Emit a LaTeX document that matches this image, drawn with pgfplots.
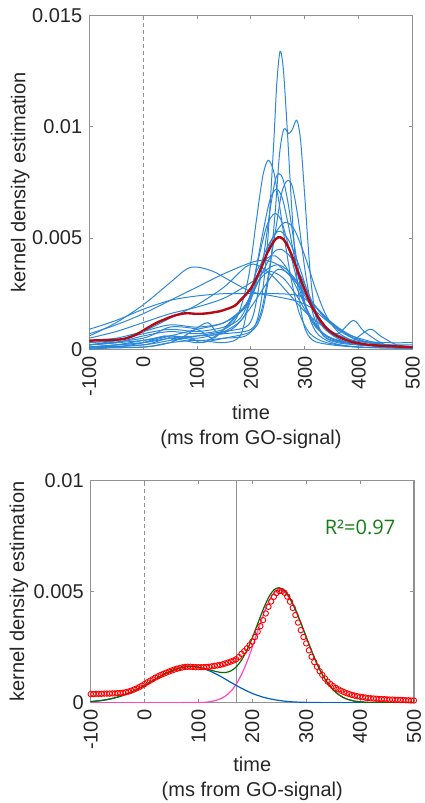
\documentclass[border=0pt]{standalone}
\usepackage{fontspec}
\setmainfont{Liberation Sans}
\newfontfamily\osans{Open Sans}
\usepackage{pgfplots}
\usepackage{pgfplotstable}
\pgfplotsset{compat=1.18}
\definecolor{axisgray}{RGB}{145,145,145}
\definecolor{kdeblue}{RGB}{45,135,215}
\definecolor{meanred}{RGB}{180,10,20}
\definecolor{fitgreen}{RGB}{0,110,0}
\definecolor{fitblue}{RGB}{0,95,200}
\definecolor{fitmagenta}{RGB}{255,70,190}
\definecolor{rgreen}{RGB}{20,125,20}

% mean kernel density (red), shared by both panels
\pgfplotstableread{
t v
-100 0.00039
-95 0.00039
-90 0.00040
-85 0.00040
-80 0.00040
-75 0.00041
-70 0.00041
-65 0.00041
-60 0.00042
-55 0.00042
-50 0.00043
-45 0.00044
-40 0.00045
-35 0.00047
-30 0.00050
-25 0.00054
-20 0.00059
-15 0.00064
-10 0.00070
-5 0.00077
0 0.00084
5 0.00092
10 0.00099
15 0.00106
20 0.00113
25 0.00119
30 0.00125
35 0.00130
40 0.00135
45 0.00140
50 0.00145
55 0.00149
60 0.00153
65 0.00156
70 0.00159
75 0.00161
80 0.00162
85 0.00162
90 0.00161
95 0.00160
100 0.00160
105 0.00160
110 0.00160
115 0.00161
120 0.00162
125 0.00164
130 0.00166
135 0.00168
140 0.00170
145 0.00173
150 0.00177
155 0.00181
160 0.00185
165 0.00190
170 0.00196
175 0.00206
180 0.00220
185 0.00232
190 0.00245
195 0.00259
200 0.00275
205 0.00296
210 0.00320
215 0.00345
220 0.00372
225 0.00402
230 0.00432
235 0.00456
240 0.00477
245 0.00494
250 0.00503
255 0.00503
260 0.00495
265 0.00478
270 0.00455
275 0.00427
280 0.00395
285 0.00361
290 0.00327
295 0.00296
300 0.00267
305 0.00236
310 0.00207
315 0.00183
320 0.00162
325 0.00142
330 0.00125
335 0.00109
340 0.00095
345 0.00084
350 0.00075
355 0.00067
360 0.00060
365 0.00054
370 0.00048
375 0.00043
380 0.00039
385 0.00035
390 0.00032
395 0.00029
400 0.00027
405 0.00025
410 0.00023
415 0.00021
420 0.00020
425 0.00019
430 0.00018
435 0.00017
440 0.00016
445 0.00016
450 0.00015
455 0.00014
460 0.00014
465 0.00013
470 0.00013
475 0.00012
480 0.00012
485 0.00011
490 0.00011
495 0.00010
500 0.00010
}\meankde

\pgfplotsset{
  matlabax/.style={
    scale only axis,
    xmin=-100, xmax=500, ymin=0,
    xtick={-100,0,100,200,300,400,500},
    xticklabels={-100,0,100,200,300,400,500},
    scaled y ticks=false,
    xticklabel style={rotate=90, anchor=east},
    tick label style={font=\fontsize{10}{12}\selectfont, text=black!85},
    /pgf/number format/assume math mode=true,
    major tick length=1.8pt,
    tick style={draw=axisgray, line width=0.5pt},
    axis line style={draw=axisgray, line width=0.6pt},
    label style={font=\fontsize{10}{12.5}\selectfont, text=black!85},
    xlabel={time\\(ms from GO-signal)},
    ylabel={kernel density estimation},
  },
  kde/.style={kdeblue, line width=0.5pt, smooth, tension=0.5},
}

\begin{document}
\begin{tikzpicture}
\path[use as bounding box] (0pt,0pt) rectangle (212pt,-401.5pt);

% ---- top: individual KDEs and their mean
\begin{axis}[matlabax,
  at={(44.65pt,-7.85pt)}, anchor=north west,
  width=161.7pt, height=166.8pt,
  ymax=0.015,
  ytick={0,0.005,0.01,0.015}, yticklabels={0,0.005,0.01,0.015},
  xlabel style={at={(axis description cs:0.5,0)}, anchor=center, yshift=-38.6pt, align=center},
  ylabel style={at={(axis description cs:-0.214,0.5)}, anchor=center},
]
\addplot[kde] coordinates {(-100,0.0001) (-50,0.0002) (0,0.0004) (50,0.0006) (100,0.0004) (150,0.0005) (190,0.0006) (210,0.0012) (222,0.0027) (232,0.0052) (242,0.0092) (248,0.0120) (254,0.0134) (260,0.0126) (267,0.0100) (276,0.0062) (286,0.0030) (298,0.0011) (315,0.0004) (350,0.0002) (400,0.0001) (500,0.00005)};
\addplot[kde] coordinates {(-100,0.0001) (0,0.0002) (50,0.0005) (100,0.0003) (150,0.0005) (200,0.0008) (220,0.0016) (235,0.0036) (245,0.0062) (253,0.0088) (261,0.0099) (270,0.0097) (277,0.0099) (285,0.0103) (292,0.0094) (300,0.0068) (310,0.0034) (320,0.0015) (335,0.0006) (360,0.0003) (400,0.0002) (500,0.0001)};
\addplot[kde] coordinates {(-100,0.0002) (-50,0.0003) (0,0.0006) (50,0.0008) (100,0.0007) (150,0.0009) (175,0.0015) (195,0.0032) (210,0.0058) (222,0.0078) (232,0.0085) (242,0.0080) (252,0.0066) (262,0.0050) (275,0.0031) (290,0.0016) (310,0.0007) (340,0.0003) (400,0.0001) (500,0.00005)};
\addplot[kde] coordinates {(-100,0.00005) (0,0.0002) (50,0.0004) (100,0.0006) (150,0.0008) (190,0.0010) (205,0.0016) (220,0.0036) (235,0.0062) (245,0.0076) (252,0.0079) (260,0.0076) (270,0.0064) (285,0.0040) (300,0.0021) (320,0.0008) (350,0.0003) (400,0.0001) (500,0.00005)};
\addplot[kde] coordinates {(-100,0.0001) (0,0.0003) (50,0.0005) (100,0.0006) (150,0.0007) (200,0.0009) (220,0.0018) (240,0.0045) (255,0.0068) (262,0.0074) (269,0.0076) (277,0.0073) (288,0.0058) (300,0.0036) (315,0.0016) (335,0.0006) (370,0.0003) (420,0.0002) (500,0.0001)};
\addplot[kde] coordinates {(-100,0.0003) (-50,0.0004) (0,0.0007) (50,0.0009) (100,0.0008) (150,0.0010) (180,0.0014) (200,0.0025) (220,0.0050) (235,0.0067) (247,0.0072) (258,0.0068) (270,0.0055) (285,0.0036) (300,0.0020) (320,0.0010) (350,0.0005) (400,0.0002) (500,0.0001)};
\addplot[kde] coordinates {(-100,0.0002) (0,0.0005) (50,0.0010) (100,0.0009) (130,0.0005) (160,0.0012) (195,0.0022) (215,0.0042) (230,0.0056) (244,0.0061) (256,0.0058) (270,0.0046) (290,0.0027) (310,0.0014) (340,0.0006) (380,0.0003) (450,0.0001) (500,0.00005)};
\addplot[kde] coordinates {(-100,0.0001) (-50,0.0002) (0,0.0003) (50,0.0006) (100,0.0009) (150,0.0012) (190,0.0020) (215,0.0034) (240,0.0050) (262,0.0057) (280,0.0054) (300,0.0042) (320,0.0027) (340,0.0015) (365,0.0007) (400,0.0003) (450,0.0001) (500,0.00005)};
\addplot[kde] coordinates {(-100,0.0002) (0,0.0004) (50,0.0006) (100,0.0005) (150,0.0008) (185,0.0014) (205,0.0026) (225,0.0043) (250,0.0053) (270,0.0049) (290,0.0037) (310,0.0022) (330,0.0011) (360,0.0005) (400,0.0002) (500,0.0001)};
\addplot[kde] coordinates {(-100,0.0004) (-50,0.0005) (0,0.0008) (50,0.0011) (100,0.0010) (150,0.0012) (190,0.0019) (220,0.0034) (240,0.0043) (255,0.0045) (275,0.0041) (300,0.0029) (325,0.0015) (350,0.0008) (390,0.0004) (450,0.0002) (500,0.0001)};
\addplot[kde] coordinates {(-100,0.00005) (0,0.0001) (50,0.0003) (100,0.0004) (150,0.0003) (180,0.0006) (195,0.0020) (210,0.0035) (230,0.0041) (245,0.0042) (265,0.0037) (290,0.0025) (315,0.0013) (340,0.0006) (380,0.0003) (420,0.0009) (440,0.0006) (470,0.0002) (500,0.0001)};
\addplot[kde] coordinates {(-100,0.0007) (-50,0.0011) (0,0.0016) (50,0.0022) (100,0.0028) (150,0.0034) (200,0.0039) (225,0.0040) (250,0.0038) (280,0.0031) (310,0.0022) (340,0.0014) (370,0.0008) (400,0.0005) (450,0.0002) (500,0.0001)};
\addplot[kde] coordinates {(-100,0.0006) (-50,0.0012) (0,0.0020) (50,0.0030) (80,0.0036) (100,0.0037) (130,0.0035) (160,0.0031) (200,0.0026) (240,0.0024) (280,0.0022) (310,0.0019) (340,0.0013) (370,0.0008) (400,0.0004) (450,0.0002) (500,0.0001)};
\addplot[kde] coordinates {(-100,0.0009) (-50,0.0013) (0,0.0018) (50,0.0022) (100,0.0024) (150,0.0025) (200,0.0025) (250,0.0025) (290,0.0024) (320,0.0019) (350,0.0012) (380,0.0007) (420,0.0003) (500,0.0001)};
\addplot[kde] coordinates {(-100,0.0002) (-50,0.0004) (0,0.0008) (50,0.0014) (100,0.0020) (150,0.0028) (190,0.0037) (210,0.0038) (240,0.0033) (270,0.0025) (300,0.0017) (330,0.0011) (360,0.0007) (390,0.0013) (410,0.0008) (450,0.0002) (500,0.0001)};
\addplot[kde] coordinates {(-100,0.0000) (-50,0.0001) (0,0.0003) (40,0.0006) (60,0.0004) (90,0.0008) (120,0.0012) (140,0.0007) (170,0.0010) (200,0.0019) (230,0.0030) (250,0.0036) (275,0.0033) (300,0.0024) (330,0.0012) (360,0.0005) (400,0.0002) (500,0.0001)};
\addplot[kde] coordinates {(-100,0.0001) (0,0.0001) (50,0.0003) (80,0.0006) (110,0.0003) (150,0.0009) (190,0.0020) (215,0.0031) (235,0.0035) (260,0.0032) (285,0.0024) (310,0.0014) (340,0.0006) (380,0.0003) (420,0.0002) (500,0.0002)};
\addplot[kde] coordinates {(-100,0.0005) (-50,0.0008) (0,0.0012) (50,0.0016) (100,0.0019) (150,0.0023) (200,0.0030) (230,0.0036) (250,0.0038) (270,0.0035) (300,0.0026) (330,0.0016) (360,0.0009) (400,0.0004) (450,0.0003) (500,0.0003)};
\addplot[meanred, line width=1.2pt] table[x=t, y=v] {\meankde};
\addplot[axisgray, line width=0.5pt, dash pattern=on 2pt off 1.5pt] coordinates {(0,0) (0,0.015)};
\end{axis}

% ---- bottom: mean KDE and two-component fit
\begin{axis}[matlabax,
  at={(45.35pt,-240.35pt)}, anchor=north west,
  width=161.6pt, height=111pt,
  ymax=0.01,
  ytick={0,0.005,0.01}, yticklabels={0,0.005,0.01},
  xlabel style={at={(axis description cs:0.5,0)}, anchor=center, yshift=-38.2pt, align=center},
  ylabel style={at={(axis description cs:-0.222,0.5)}, anchor=center},
]
\addplot[axisgray, line width=0.5pt, dash pattern=on 2pt off 1.5pt] coordinates {(0,0) (0,0.01)};
\addplot[axisgray, line width=0.5pt] coordinates {(171,0) (171,0.01)};
\addplot[only marks, mark=o, red, mark size=1.35pt, mark options={line width=0.45pt}] table[x=t, y=v] {\meankde};
\addplot[fitmagenta, line width=0.6pt, smooth] coordinates {(-100,0) (0,0) (100,0.00001) (120,0.00004) (130,0.00009) (140,0.00017) (150,0.0003) (160,0.00051) (170,0.00083) (180,0.00127) (190,0.00183) (200,0.0025) (210,0.00323) (220,0.00394) (230,0.00454) (240,0.00494) (250,0.00508) (260,0.00497) (270,0.00466) (280,0.00418) (290,0.00359) (300,0.00295) (310,0.00233) (320,0.00175) (330,0.00127) (340,0.00088) (350,0.00058) (360,0.00037) (370,0.00022) (380,0.00013) (390,0.00007) (400,0.00004) (420,0.00001) (450,0) (500,0)};
\addplot[fitblue, line width=0.6pt, smooth] coordinates {(-100,0.00005) (-80,0.0001) (-60,0.00019) (-40,0.00033) (-20,0.00053) (0,0.00078) (20,0.00106) (40,0.00133) (60,0.00153) (80,0.00163) (100,0.00159) (120,0.00144) (140,0.0012) (160,0.00092) (180,0.00065) (200,0.00042) (220,0.00025) (240,0.00014) (260,0.00007) (280,0.00003) (300,0.000015) (340,0.000002) (400,0) (500,0)};
\addplot[fitgreen, line width=0.6pt, smooth] coordinates {(-100,0.00005) (-80,0.0001) (-60,0.00019) (-40,0.00033) (-20,0.00053) (0,0.00078) (20,0.00106) (40,0.00133) (60,0.00153) (80,0.00163) (100,0.0016) (120,0.00148) (130,0.00142) (140,0.00137) (150,0.00136) (160,0.00143) (170,0.00161) (180,0.00192) (190,0.00236) (200,0.00292) (210,0.00356) (220,0.00419) (230,0.00473) (240,0.00508) (250,0.00518) (260,0.00504) (270,0.00471) (280,0.00421) (290,0.00361) (300,0.00297) (310,0.00234) (320,0.00175) (330,0.00127) (340,0.00088) (350,0.00058) (360,0.00037) (370,0.00022) (380,0.00013) (390,0.00007) (400,0.00004) (420,0.00001) (450,0) (500,0)};
\node[text=rgreen, font=\osans\fontsize{10}{12}\selectfont] at (axis cs:400,0.0079) {R²=0.97};
\end{axis}
\end{tikzpicture}
\end{document}
